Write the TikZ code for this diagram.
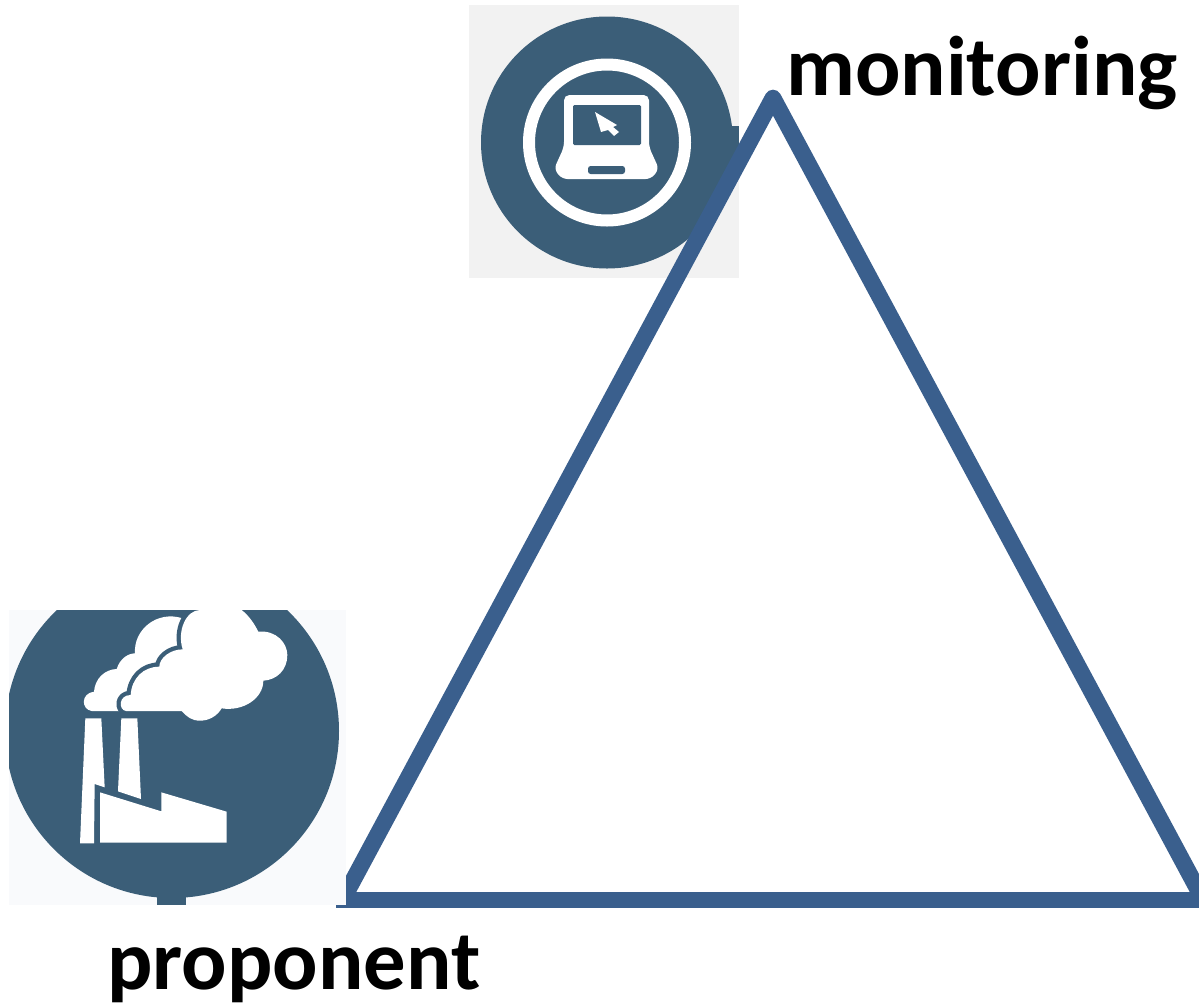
\documentclass[tikz,border=0pt]{standalone}
\usepackage{fontspec}
\setmainfont{Carlito}
\definecolor{icon}{HTML}{3B5E78}
\definecolor{tri}{HTML}{3A5F8D}
\definecolor{bgA}{HTML}{F2F2F2}
\definecolor{bgB}{HTML}{F9FAFC}
\tikzset{
  lbl/.style={anchor=base west,inner sep=0pt,font=\fontsize{63.5}{76}\selectfont\bfseries,text=black}
}
\begin{document}
\begin{tikzpicture}[x=0.75pt,y=-0.75pt]
\useasboundingbox (0,0) rectangle (1199,1004);
\clip (0,0) rectangle (1199,1004);
% top icon
\fill[bgA] (469,5) rectangle (739,278);
\fill[icon] (607,142.5) circle (126);
\fill[icon] (725,126) rectangle (739,170);
\draw[white,line width=9pt] (607,142.5) circle (78);
% laptop
\fill[white,rounded corners=4] (564,95) -- (649,95) -- (649,147) -- (659,169) -- (651,179) -- (562,179) -- (554,169) -- (564,147) -- cycle;
\fill[icon,rounded corners=1] (573,105) rectangle (641,145);
\fill[icon,rounded corners=2] (588,166) rectangle (625,174);
\fill[white] (595,112) -- (617,125) -- (613,127) -- (619,132) -- (614,136) -- (608,130) -- (601,132) -- cycle;
% triangle
\coordinate (apex) at (773,98);
\coordinate (tl) at (342.5,900);
\coordinate (tr) at (1203.5,900);
\coordinate (bl) at (336,900);
\draw[tri,line width=12.5pt,line join=round] (tl) -- (apex) -- (tr);
\draw[tri,line width=12pt] (bl) -- (tr);
% bottom icon
\fill[bgB] (9,610) rectangle (346,905);
\begin{scope}
\clip (9,610) rectangle (346,905);
\fill[icon] (172,731) circle (167);
\fill[icon] (157,890) rectangle (186,905);
\end{scope}
\begin{scope}[shift={(0,600)},x=0.25pt,y=-0.25pt]
\clip (0,30) rectangle (1000,800);
% back cloud
\fill[white] (275,333) .. controls (243,328) and (242,280) .. (282,275)
  .. controls (285,235) and (315,208) .. (350,207)
  .. controls (360,175) and (385,160) .. (405,160)
  .. controls (400,90) and (470,30) .. (548,55)
  -- (560,333) -- cycle;
% front cloud, with a gap round it
\def\frontcloud{(378,333) .. controls (355,330) and (355,285) .. (392,285)
  .. controls (395,235) and (430,200) .. (478,200)
  .. controls (478,175) and (510,148) .. (548,148)
  .. controls (530,90) and (560,30) .. (600,30)
  -- (725,30) .. controls (750,50) and (765,75) .. (775,95)
  .. controls (830,90) and (862,130) .. (862,165)
  .. controls (862,210) and (830,240) .. (790,242)
  .. controls (790,295) and (730,335) .. (665,325)
  .. controls (650,350) and (625,362) .. (600,362)
  .. controls (575,362) and (560,350) .. (545,333) -- cycle}
\draw[icon,line width=6.5pt,line join=round] \frontcloud;
\fill[white] \frontcloud;
% chimneys and factory
\fill[white] (256,355) -- (304,355) -- (314,562) -- (284,552) -- (282,730) -- (240,730) -- cycle;
\fill[white] (364,355) -- (412,355) -- (423,597) -- (354,574) -- cycle;
\fill[white] (300,577) -- (484,634) -- (484,577) -- (680,635) -- (680,728) -- (300,728) -- cycle;
\end{scope}
% labels
\node[lbl] (monitoring) at (786,95) {monitoring};
\node[lbl] (proponent) at (107,989) {proponent};
\end{tikzpicture}
\end{document}
